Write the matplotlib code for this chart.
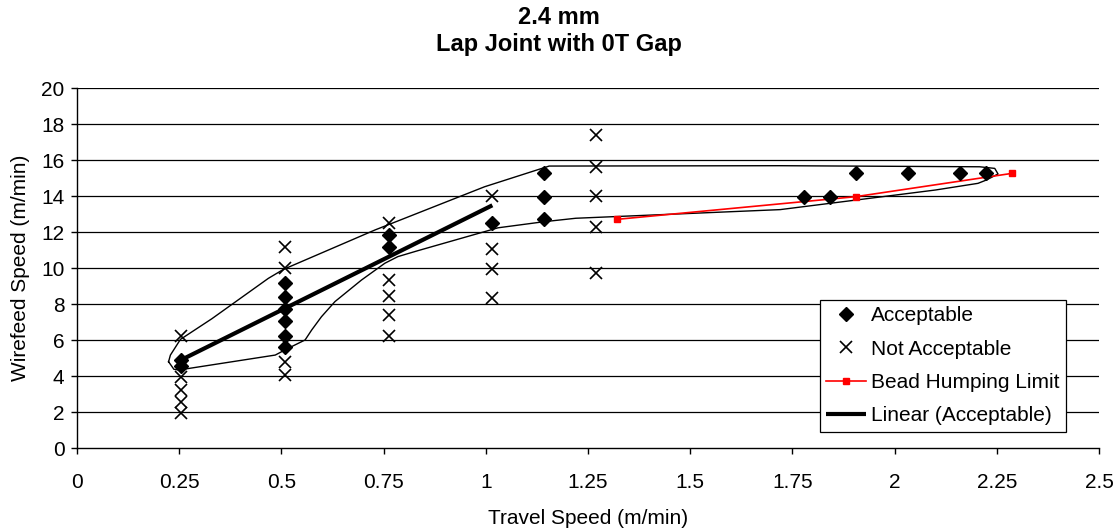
import numpy as np
import matplotlib
matplotlib.use("Agg")
import matplotlib.pyplot as plt

plt.rcParams['font.family'] = ['Liberation Sans', 'DejaVu Sans']

# Welds judged acceptable (travel speed m/min, wirefeed speed m/min)
acc_x = [0.254, 0.254,
         0.508, 0.508, 0.508, 0.508, 0.508, 0.508,
         0.762, 0.762,
         1.016,
         1.143, 1.143, 1.143,
         1.778, 1.842, 1.905, 2.032, 2.159, 2.223]
acc_y = [4.90, 4.55,
         9.17, 8.42, 7.74, 7.09, 6.26, 5.64,
         11.85, 11.17,
         12.53,
         15.27, 13.98, 12.72,
         13.98, 13.98, 15.27, 15.27, 15.27, 15.27]

# Welds judged not acceptable
nacc_x = [0.254, 0.254, 0.254, 0.254, 0.254,
          0.508, 0.508, 0.508, 0.508,
          0.762, 0.762, 0.762, 0.762, 0.762,
          1.016, 1.016, 1.016, 1.016,
          1.270, 1.270, 1.270, 1.270, 1.270]
nacc_y = [6.24, 3.94, 3.22, 2.57, 1.94,
          11.20, 10.00, 4.81, 4.07,
          12.53, 9.35, 8.45, 7.42, 6.25,
          14.03, 11.07, 9.94, 8.37,
          17.40, 15.64, 14.02, 12.28, 9.72]

# Bead humping limit
hump_x = [1.321, 1.905, 2.286]
hump_y = [12.72, 13.98, 15.27]

# Linear trend of the acceptable region
trend_x = [0.254, 1.016]
trend_y = [4.90, 13.50]

# Outline of the acceptable operating window
env_x = [0.224, 0.237, 0.249, 0.485, 0.505, 0.517, 0.558, 0.574, 0.598,
         0.631, 0.696, 0.753, 0.785, 0.834, 1.030, 1.143, 1.220, 1.720,
         2.100, 2.204, 2.224, 2.253, 2.245, 2.208, 1.720, 1.155, 0.997,
         0.785, 0.729, 0.505, 0.468, 0.330, 0.253, 0.2285, 0.224]
env_y = [4.81, 4.39, 4.35, 5.18, 5.42, 5.56, 6.02, 6.57, 7.31,
         8.15, 9.35, 10.28, 10.65, 10.98, 12.25, 12.59, 12.78, 13.26,
         14.35, 14.72, 14.90, 15.24, 15.55, 15.64, 15.70, 15.68, 14.53,
         12.63, 12.13, 9.94, 9.44, 7.20, 6.05, 5.18, 4.81]

x_ticks = [0, 0.25, 0.5, 0.75, 1, 1.25, 1.5, 1.75, 2, 2.25, 2.5]
x_tick_labels = ['0', '0.25', '0.5', '0.75', '1', '1.25', '1.5', '1.75', '2', '2.25', '2.5']
y_ticks = list(range(0, 21, 2))

FS = 15

fig = plt.figure(figsize=(11.17, 5.31), dpi=100)
ax = fig.add_axes([77 / 1117, 82.7 / 531, 1022 / 1117, 360 / 531])

ax.set_xlim(0, 2.5)
ax.set_ylim(0, 20)
for yv in y_ticks[1:]:
    ax.axhline(yv, color='black', lw=0.9, zorder=0)

ax.plot(env_x, env_y, color='black', lw=1.0, zorder=2)
ax.plot(acc_x, acc_y, linestyle='none', marker='D', ms=7, color='black',
        label='Acceptable', zorder=4)
ax.plot(nacc_x, nacc_y, linestyle='none', marker='x', ms=8.5, mew=1.2,
        color='black', label='Not Acceptable', zorder=4)
ax.plot(hump_x, hump_y, color='red', lw=1.2, marker='s', ms=5,
        label='Bead Humping Limit', zorder=3)
ax.plot(trend_x, trend_y, color='black', lw=3.0, solid_capstyle='butt',
        label='Linear (Acceptable)', zorder=3)

ax.set_xticks(x_ticks)
ax.set_xticklabels(x_tick_labels)
ax.set_yticks(y_ticks)
ax.tick_params(axis='both', labelsize=FS, direction='out', length=4,
               width=1, colors='black')
ax.tick_params(axis='x', pad=14)
ax.tick_params(axis='y', pad=5)
for side in ('top', 'right'):
    ax.spines[side].set_visible(False)
for side in ('left', 'bottom'):
    ax.spines[side].set_color('black')
    ax.spines[side].set_linewidth(1)

ax.set_xlabel('Travel Speed (m/min)', fontsize=FS, labelpad=12)
ax.set_ylabel('Wirefeed Speed (m/min)', fontsize=FS, labelpad=8)

fig.text(0.5, 1 - 18 / 531, '2.4 mm', ha='center', va='center',
         fontsize=17, fontweight='bold')
fig.text(0.5, 1 - 45 / 531, 'Lap Joint with 0T Gap', ha='center',
         va='center', fontsize=17, fontweight='bold')

leg = ax.legend(loc='lower right', bbox_to_anchor=(0.9674, 0.046),
                borderaxespad=0, fontsize=FS, frameon=True, fancybox=False,
                edgecolor='black', framealpha=1, handlelength=1.9,
                labelspacing=0.69, handletextpad=0.25, borderpad=0.3)
leg.get_frame().set_linewidth(0.9)

fig.savefig('out.png', dpi=100)
